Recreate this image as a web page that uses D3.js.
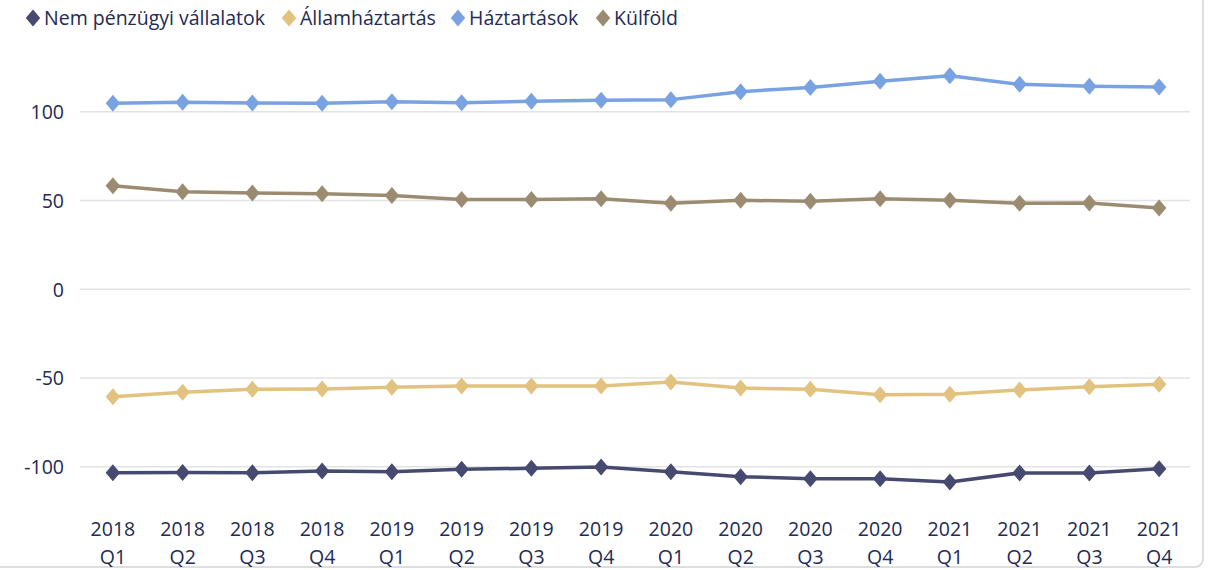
<!DOCTYPE html>
<html><head><meta charset="utf-8">
<script src="https://cdn.jsdelivr.net/npm/d3@7/dist/d3.min.js"></script>
<style>body{margin:0;background:#fff}svg{display:block}</style>
</head><body><div id="chart"></div>
<script>
const categories = ["2018 Q1","2018 Q2","2018 Q3","2018 Q4","2019 Q1","2019 Q2","2019 Q3","2019 Q4","2020 Q1","2020 Q2","2020 Q3","2020 Q4","2021 Q1","2021 Q2","2021 Q3","2021 Q4"];
const seriesNames = ["Nem pénzügyi vállalatok","Államháztartás","Háztartások","Külföld"];
const nemPenzugyi = [-103.4,-103.2,-103.4,-102.4,-102.8,-101.5,-100.9,-100.2,-102.8,-105.6,-106.8,-106.8,-108.6,-103.5,-103.5,-101.1];
const allamhaztartas = [-60.6,-58.1,-56.4,-56.2,-55.3,-54.5,-54.5,-54.5,-52.3,-55.7,-56.4,-59.4,-59.2,-56.8,-54.9,-53.6];
const haztartasok = [104.7,105.3,104.9,104.7,105.6,105.1,105.9,106.4,106.8,111.3,113.7,117.1,120.3,115.4,114.3,113.9];
const kulfold = [58.3,54.9,54.2,53.8,52.8,50.6,50.6,50.9,48.4,50.1,49.5,51.0,50.1,48.4,48.6,45.7];
const yTicks = [-100,-50,0,50,100];
const colors = ["#474a70","#e2c27f","#79a2e2","#9b8c71"];

const W = 1209, H = 570;
const svg = d3.select("#chart").append("svg").attr("width", W).attr("height", H);
const font = "'Open Sans', sans-serif";
const fs = 19.5;
const textColor = "#222a55";

// border
svg.append("rect").attr("x",-10).attr("y",-10).attr("width",1213).attr("height",577)
  .attr("rx",8).attr("fill","none").attr("stroke","#d4d4d4").attr("stroke-width",1.5);

const x = d3.scaleBand().domain(categories).range([78, 1194]);
const y = d3.scaleLinear().domain([-100, 100]).range([466.7, 111.7]);

// gridlines
svg.append("g").selectAll("line").data(yTicks).join("line")
  .attr("x1", 80).attr("x2", 1190)
  .attr("y1", d => y(d)).attr("y2", d => y(d))
  .attr("stroke", "#e3e3e3").attr("stroke-width", 1.5);

// y axis labels
const yAxis = d3.axisLeft(y).tickValues(yTicks).tickSize(0).tickPadding(0).tickFormat(d => String(d));
const gy = svg.append("g").attr("transform","translate(64,0)").call(yAxis);
gy.select(".domain").remove();
gy.selectAll("text").attr("font-family", font).attr("font-size", fs).attr("fill", textColor)
  .attr("dy","0.35em");

// x axis labels
const xAxis = d3.axisBottom(x).tickSize(0).tickFormat(() => "");
const gx = svg.append("g").attr("transform","translate(0,500)").call(xAxis);
gx.select(".domain").remove();
gx.selectAll(".tick").each(function(d){
  const parts = d.split(" ");
  const t = d3.select(this).append("text").attr("font-family", font).attr("font-size", fs)
    .attr("fill", textColor).attr("text-anchor","middle");
  t.append("tspan").attr("x",0).attr("y",36).text(parts[0]);
  t.append("tspan").attr("x",0).attr("y",64).text(parts[1]);
});

const data = [nemPenzugyi, allamhaztartas, haztartasok, kulfold];
const cx = d => x(d) + x.bandwidth()/2;
const line = d3.line().x((v,i) => cx(categories[i])).y(v => y(v));
const diamond = (s) => `M0,${-s}L${s*0.85},0L0,${s}L${-s*0.85},0Z`;

data.forEach((vals, k) => {
  const g = svg.append("g");
  g.append("path").datum(vals).attr("d", line).attr("fill","none")
    .attr("stroke", colors[k]).attr("stroke-width", 3.5).attr("stroke-linejoin","round");
  g.selectAll("path.m").data(vals).join("path").attr("class","m")
    .attr("d", diamond(8.5))
    .attr("transform", (v,i) => `translate(${cx(categories[i])},${y(v)})`)
    .attr("fill", colors[k]);
});

// legend
const legendX = [33, 289, 458, 603];
const lg = svg.append("g");
seriesNames.forEach((n, k) => {
  lg.append("path").attr("d", diamond(8.5)).attr("transform", `translate(${legendX[k]},18)`).attr("fill", colors[k]);
  lg.append("text").attr("x", legendX[k] + 11).attr("y", 18).attr("dy","0.35em")
    .attr("font-family", font).attr("font-size", fs).attr("fill", textColor).text(n);
});
</script></body></html>
